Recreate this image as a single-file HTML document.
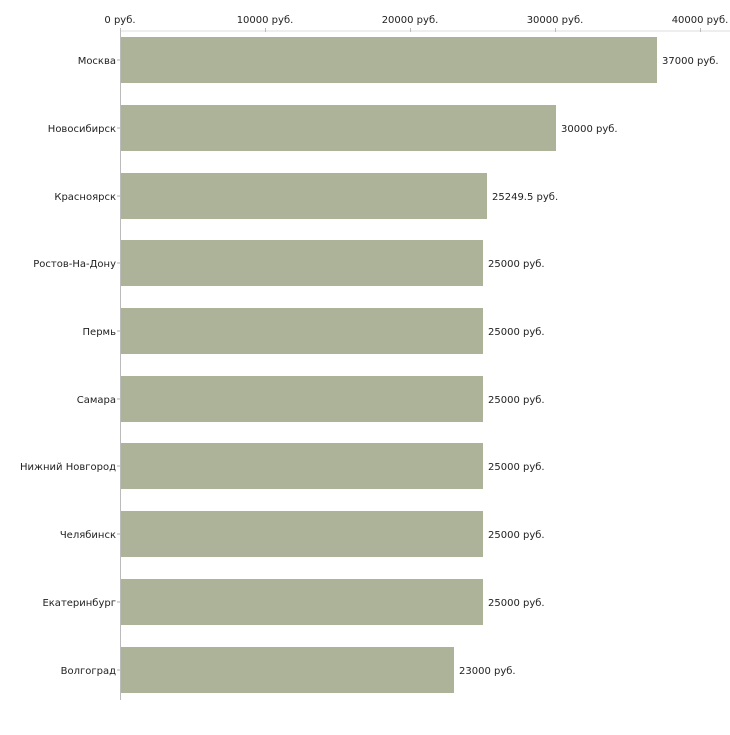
<!DOCTYPE html><html><head><style>body{margin:0;background:#fff}svg text{font-family:"DejaVu Sans","Liberation Sans",sans-serif;font-size:10px;fill:#222}</style></head><body>
<svg width="730" height="730" xmlns="http://www.w3.org/2000/svg">
<line x1="120" y1="31" x2="730" y2="31" stroke="#ddd"/>
<line x1="120.5" y1="28" x2="120.5" y2="700" stroke="#bbb"/>
<g stroke="#bbb">
<line x1="265.5" y1="28" x2="265.5" y2="32"/><line x1="410.5" y1="28" x2="410.5" y2="32"/><line x1="555.5" y1="28" x2="555.5" y2="32"/><line x1="700.5" y1="28" x2="700.5" y2="32"/>
</g>
<g text-anchor="middle">
<text x="120" y="23">0 руб.</text><text x="265" y="23">10000 руб.</text><text x="410" y="23">20000 руб.</text><text x="555" y="23">30000 руб.</text><text x="700" y="23">40000 руб.</text>
</g>
<g fill="#adb398">
<rect x="121" y="37" width="536" height="46"/>
<rect x="121" y="105" width="435" height="46"/>
<rect x="121" y="173" width="366" height="46"/>
<rect x="121" y="240" width="362" height="46"/>
<rect x="121" y="308" width="362" height="46"/>
<rect x="121" y="376" width="362" height="46"/>
<rect x="121" y="443" width="362" height="46"/>
<rect x="121" y="511" width="362" height="46"/>
<rect x="121" y="579" width="362" height="46"/>
<rect x="121" y="647" width="333" height="46"/>
</g>
<g stroke="#adb398">
<line x1="117" y1="60" x2="120" y2="60"/><line x1="117" y1="128" x2="120" y2="128"/><line x1="117" y1="196" x2="120" y2="196"/><line x1="117" y1="263" x2="120" y2="263"/><line x1="117" y1="331" x2="120" y2="331"/><line x1="117" y1="399" x2="120" y2="399"/><line x1="117" y1="466" x2="120" y2="466"/><line x1="117" y1="534" x2="120" y2="534"/><line x1="117" y1="602" x2="120" y2="602"/><line x1="117" y1="670" x2="120" y2="670"/>
</g>
<g text-anchor="end">
<text x="116" y="64">Москва</text><text x="116" y="132">Новосибирск</text><text x="116" y="200">Красноярск</text><text x="116" y="267">Ростов-На-Дону</text><text x="116" y="335">Пермь</text><text x="116" y="403">Самара</text><text x="116" y="470">Нижний Новгород</text><text x="116" y="538">Челябинск</text><text x="116" y="606">Екатеринбург</text><text x="116" y="674">Волгоград</text>
</g>
<g>
<text x="662" y="64">37000 руб.</text><text x="561" y="132">30000 руб.</text><text x="492" y="200">25249.5 руб.</text><text x="488" y="267">25000 руб.</text><text x="488" y="335">25000 руб.</text><text x="488" y="403">25000 руб.</text><text x="488" y="470">25000 руб.</text><text x="488" y="538">25000 руб.</text><text x="488" y="606">25000 руб.</text><text x="459" y="674">23000 руб.</text>
</g>
</svg></body></html>
